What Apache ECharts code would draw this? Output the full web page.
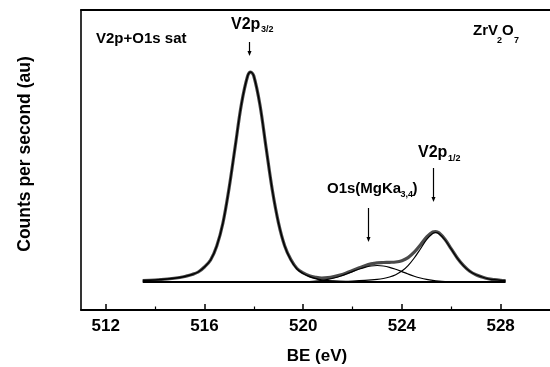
<!DOCTYPE html>
<html>
<head>
<meta charset="utf-8">
<script src="https://cdn.jsdelivr.net/npm/echarts@6/dist/echarts.min.js"></script>
<style>
  html, body { margin: 0; padding: 0; background: #fff; }
  #chart { width: 550px; height: 367px; }
</style>
</head>
<body>
<div id="chart"></div>
<script>
// V2p region of ZrV2O7: measured envelope, fitted components and linear background.
// Binding energies in eV, intensities in counts above the background (arbitrary units).

const envBE = [513.5, 514, 514.5, 515, 515.25, 515.5, 515.75, 516, 516.25, 516.5, 516.75, 517, 517.25, 517.5, 517.75, 517.87, 518, 518.25, 518.5, 518.75, 519, 519.25, 519.5, 519.75, 520, 520.25, 520.5, 520.75, 521, 521.25, 521.5, 521.75, 522, 522.25, 522.5, 522.75, 523, 523.25, 523.5, 523.75, 524, 524.25, 524.5, 524.75, 525, 525.25, 525.37, 525.5, 525.75, 526, 526.25, 526.5, 526.75, 527, 527.25, 527.5, 527.75, 528, 528.2];
const envCounts = [1.5, 2, 3, 4.5, 5.8, 7.5, 10, 15, 22, 36, 59, 94, 136, 178, 206, 210, 206, 177, 134, 92, 59.2, 36.3, 22.4, 13.5, 9.1, 6.3, 4.8, 4.0, 4.3, 5.4, 7.0, 9.1, 11.6, 14.0, 16.3, 18.1, 19.2, 19.5, 19.7, 20.0, 21.3, 24.4, 29.8, 37, 44.9, 50.1, 50.5, 49.2, 42.5, 33.1, 23.8, 16.3, 10.7, 7.2, 5.0, 3.2, 2.3, 1.7, 1.4];

// V2p3/2 component
const v32BE = [513.5, 514, 514.5, 515, 515.25, 515.5, 515.75, 516, 516.25, 516.5, 516.75, 517, 517.25, 517.5, 517.75, 517.87, 518, 518.25, 518.5, 518.75, 519, 519.25, 519.5, 519.75, 520, 520.25, 520.5, 520.75, 521, 521.5, 522, 523];
const v32Counts = [1.5, 2, 3, 4.5, 5.8, 7.5, 10, 15, 22, 36, 59, 94, 136, 178, 206, 210, 206, 177, 134, 92, 59, 36, 22, 13, 8.5, 5.5, 3.5, 2, 1.2, 0.5, 0.2, 0];

// O1s satellite excited by MgKa3,4
const o1sBE = [519.5, 519.75, 520, 520.25, 520.5, 520.75, 521, 521.25, 521.5, 521.75, 522, 522.25, 522.5, 522.75, 523, 523.25, 523.5, 523.75, 524, 524.25, 524.5, 524.75, 525, 525.25, 525.5, 525.75, 526, 526.5, 527];
const o1sCounts = [0.1, 0.2, 0.3, 0.5, 0.9, 1.6, 2.6, 4.0, 5.8, 8.0, 10.4, 12.7, 14.7, 16.0, 16.5, 16.0, 14.7, 12.7, 10.4, 8.0, 5.8, 4.0, 2.6, 1.6, 0.9, 0.5, 0.3, 0.1, 0];

// V2p1/2 component
const v12BE = [519, 520, 520.5, 521, 521.5, 522, 522.5, 523, 523.25, 523.5, 523.75, 524, 524.25, 524.5, 524.75, 525, 525.25, 525.37, 525.5, 525.75, 526, 526.25, 526.5, 526.75, 527, 527.25, 527.5, 527.75, 528, 528.2];
const v12Counts = [0.2, 0.3, 0.4, 0.5, 0.7, 1.0, 1.6, 2.6, 3.5, 5.0, 7.3, 10.9, 16.4, 24, 33, 42.3, 48.5, 49.3, 48.3, 42, 32.8, 23.6, 16.2, 10.7, 7.2, 5.0, 3.2, 2.3, 1.7, 1.4];

// Background
const bgBE = [513.5, 528.2];
const bgCounts = [0, 0];

// Axis ticks
const majorTicks = [512, 516, 520, 524, 528];
const minorTicks = [514, 518, 522, 526];

const pairs = (xs, ys) => xs.map((x, i) => [x, ys[i]]);

const FONT = "'Liberation Sans', Arial, Helvetica, sans-serif";
const chart = echarts.init(document.getElementById('chart'), null, { renderer: 'canvas' });

const lineSeries = (name, xs, ys, color, width, z) => ({
  name, type: 'line', xAxisIndex: 0, yAxisIndex: 0,
  data: pairs(xs, ys), smooth: 0.35, symbol: 'none', z,
  lineStyle: { color, width }, silent: true
});

function txt(text, x, y, size, align) {
  const a = align || 'left';
  return {
    type: 'text', x, y, silent: true,
    style: {
      text, fill: '#000', font: 'bold ' + size + 'px ' + FONT,
      textAlign: a, textVerticalAlign: 'middle', align: a, verticalAlign: 'middle'
    }
  };
}

function arrow(x, y1, y2) {
  return [
    { type: 'line', silent: true, shape: { x1: x, y1: y1, x2: x, y2: y2 - 3 }, style: { stroke: '#000', lineWidth: 1.2 } },
    { type: 'polygon', silent: true, shape: { points: [[x - 2, y2 - 5], [x + 2, y2 - 5], [x, y2]] }, style: { fill: '#000' } }
  ];
}

const option = {
  animation: false,
  backgroundColor: '#fff',
  grid: { left: 81, right: 0, top: 10, bottom: 57, containLabel: false },
  xAxis: [
    {
      type: 'value', position: 'bottom', min: 511, max: 530,
      axisLine: { show: true, onZero: false, lineStyle: { color: '#000', width: 2 } },
      axisTick: { show: true, inside: true, length: 6, customValues: majorTicks, lineStyle: { color: '#000', width: 1.5 } },
      axisLabel: { show: true, customValues: majorTicks, margin: 8, color: '#000', fontSize: 17, fontWeight: 'bold', fontFamily: FONT },
      splitLine: { show: false }
    },
    {
      type: 'value', position: 'bottom', min: 511, max: 530, gridIndex: 0,
      axisLine: { show: false, onZero: false },
      axisTick: { show: true, inside: true, length: 3.5, customValues: minorTicks, lineStyle: { color: '#000', width: 1.2 } },
      axisLabel: { show: false },
      splitLine: { show: false }
    },
    {
      type: 'value', position: 'top', min: 511, max: 530, gridIndex: 0,
      axisLine: { show: true, onZero: false, lineStyle: { color: '#000', width: 2 } },
      axisTick: { show: false }, axisLabel: { show: false }, splitLine: { show: false }
    }
  ],
  yAxis: {
    type: 'value', min: -28, max: 272,
    axisLine: { show: true, onZero: false, lineStyle: { color: '#000', width: 1.6 } },
    axisTick: { show: false }, axisLabel: { show: false }, splitLine: { show: false }
  },
  series: [
    lineSeries('envelope', envBE, envCounts, '#4a4a4a', 3.2, 2),
    lineSeries('V2p3/2', v32BE, v32Counts, '#000', 1.4, 3),
    lineSeries('O1s sat', o1sBE, o1sCounts, '#000', 1.2, 3),
    lineSeries('V2p1/2', v12BE, v12Counts, '#000', 1.2, 3),
    lineSeries('background', bgBE, bgCounts, '#000', 2, 4)
  ],
  graphic: [
    txt('V2p+O1s sat', 96, 39, 15),
    txt('V2p', 231, 25, 16),
    txt('3/2', 261, 30, 9),
    ...arrow(249.5, 42, 56),
    txt('ZrV', 473, 31, 15),
    txt('2', 497, 41, 9),
    txt('O', 502, 31, 15),
    txt('7', 514, 41, 9),
    txt('V2p', 418, 153, 16),
    txt('1/2', 448, 159, 9),
    ...arrow(433.5, 168, 202),
    txt('O1s(MgKa', 327, 189, 15),
    txt('3,4', 400.5, 195, 9),
    txt(')', 412.5, 189, 15),
    ...arrow(368.5, 208, 242),
    txt('BE (eV)', 317, 356, 17, 'center'),
    {
      type: 'text', x: 25, y: 154, rotation: Math.PI / 2, silent: true,
      style: { text: 'Counts per second (au)', fill: '#000', font: 'bold 17.5px ' + FONT, textAlign: 'center', textVerticalAlign: 'middle', align: 'center', verticalAlign: 'middle' }
    }
  ]
};

chart.setOption(option);
</script>
</body>
</html>
